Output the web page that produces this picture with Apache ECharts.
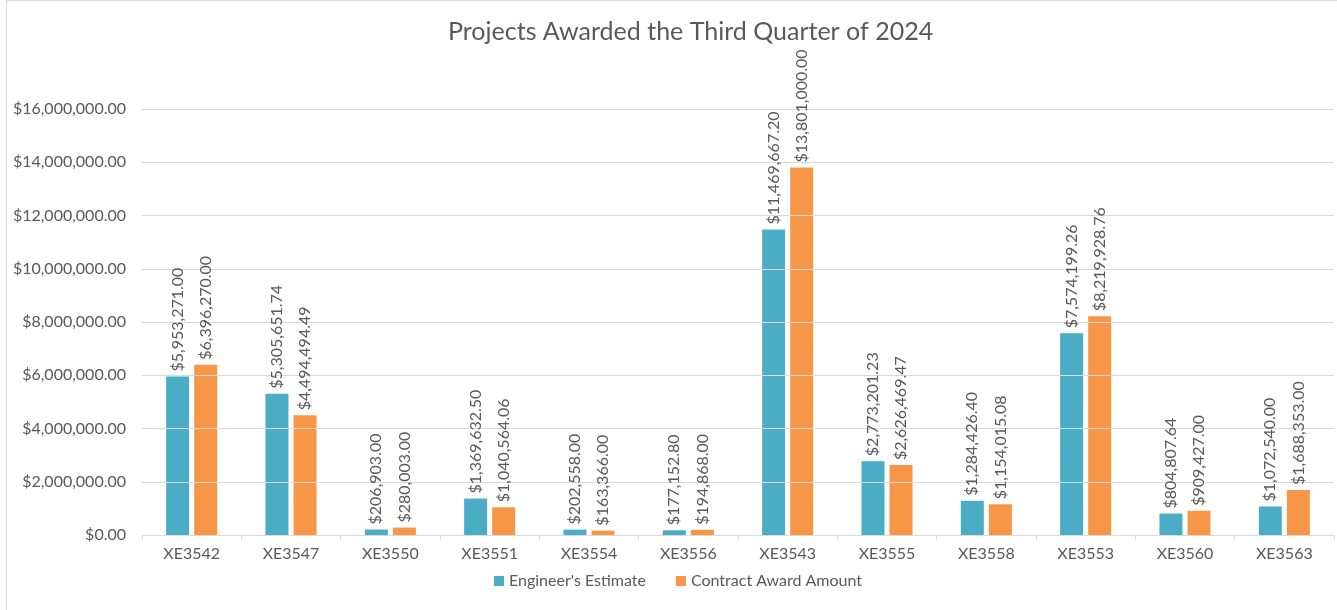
<!DOCTYPE html>
<html>
<head>
<meta charset="utf-8">
<title>Projects Awarded the Third Quarter of 2024</title>
<script src="https://cdn.jsdelivr.net/npm/echarts@6/dist/echarts.min.js"></script>
<style>
  html, body { margin: 0; padding: 0; background: #fff; }
  #frame { position: absolute; left: 6px; top: 0; width: 1400px; height: 700px;
           border-left: 1px solid #d9d9d9; border-top: 1px solid #d9d9d9; box-sizing: border-box; }
  #chart { position: absolute; left: 0; top: 0; width: 1337px; height: 610px; }
</style>
</head>
<body>
<div id="frame"></div>
<div id="chart"></div>
<script>
const categories = ['XE3542', 'XE3547', 'XE3550', 'XE3551', 'XE3554', 'XE3556', 'XE3543', 'XE3555', 'XE3558', 'XE3553', 'XE3560', 'XE3563'];
const engineerEstimate = [5953271.00, 5305651.74, 206903.00, 1369632.50, 202558.00, 177152.80, 11469667.20, 2773201.23, 1284426.40, 7574199.26, 804807.64, 1072540.00];
const contractAward = [6396270.00, 4494494.49, 280003.00, 1040564.06, 163366.00, 194868.00, 13801000.00, 2626469.47, 1154015.08, 8219928.76, 909427.00, 1688353.00];

const fmt = new Intl.NumberFormat('en-US', { minimumFractionDigits: 2, maximumFractionDigits: 2 });
const money = v => '$' + fmt.format(v);

const font = 'Lato, "Open Sans", sans-serif';
const grey = '#595959';

const barLabel = {
  show: true,
  position: 'top',
  rotate: 90,
  align: 'left',
  verticalAlign: 'middle',
  distance: 5,
  color: grey,
  fontSize: 16,
  fontFamily: font,
  formatter: p => money(p.value)
};

// bars sit under the gridlines (like Excel), labels come from a twin
// transparent set on a hidden axis so they stay on top
function barSeries(name, data, color, axis) {
  const labelsOnly = axis === 1;
  return {
    name: name,
    type: 'bar',
    xAxisIndex: axis,
    z: labelsOnly ? 5 : -1,
    data: data,
    barWidth: 23,
    barGap: '22%',
    silent: labelsOnly,
    itemStyle: { color: labelsOnly ? 'rgba(0,0,0,0)' : color },
    label: labelsOnly ? barLabel : { show: false }
  };
}

const chart = echarts.init(document.getElementById('chart'));
chart.setOption({
  animation: false,
  title: {
    text: 'Projects Awarded the Third Quarter of 2024',
    left: 443,
    top: 14,
    textStyle: { color: grey, fontSize: 25, fontWeight: 'normal', fontFamily: font }
  },
  legend: {
    bottom: 16,
    left: 489,
    itemWidth: 10,
    itemHeight: 10,
    itemGap: 30,
    icon: 'rect',
    textStyle: { color: grey, fontSize: 16, fontFamily: font },
    data: ["Engineer's Estimate", 'Contract Award Amount']
  },
  grid: { left: 142, right: 3, top: 109, bottom: 75 },
  xAxis: [
    {
      type: 'category',
      data: categories,
      axisLine: { lineStyle: { color: '#d9d9d9' } },
      axisTick: { show: true, length: 5, lineStyle: { color: '#d9d9d9' } },
      axisLabel: { color: grey, fontSize: 16, fontFamily: font, margin: 11 }
    },
    { type: 'category', data: categories, show: false }
  ],
  yAxis: {
    type: 'value',
    min: 0,
    max: 16000000,
    interval: 2000000,
    axisLine: { show: false },
    axisTick: { show: false },
    splitLine: { lineStyle: { color: '#d9d9d9' } },
    axisLabel: { color: grey, fontSize: 16, fontFamily: font, margin: 16, formatter: v => money(v) }
  },
  series: [
    barSeries("Engineer's Estimate", engineerEstimate, '#4bacc6', 0),
    barSeries('Contract Award Amount', contractAward, '#f79646', 0),
    barSeries("Engineer's Estimate ", engineerEstimate, '#4bacc6', 1),
    barSeries('Contract Award Amount ', contractAward, '#f79646', 1)
  ]
});
</script>
</body>
</html>
